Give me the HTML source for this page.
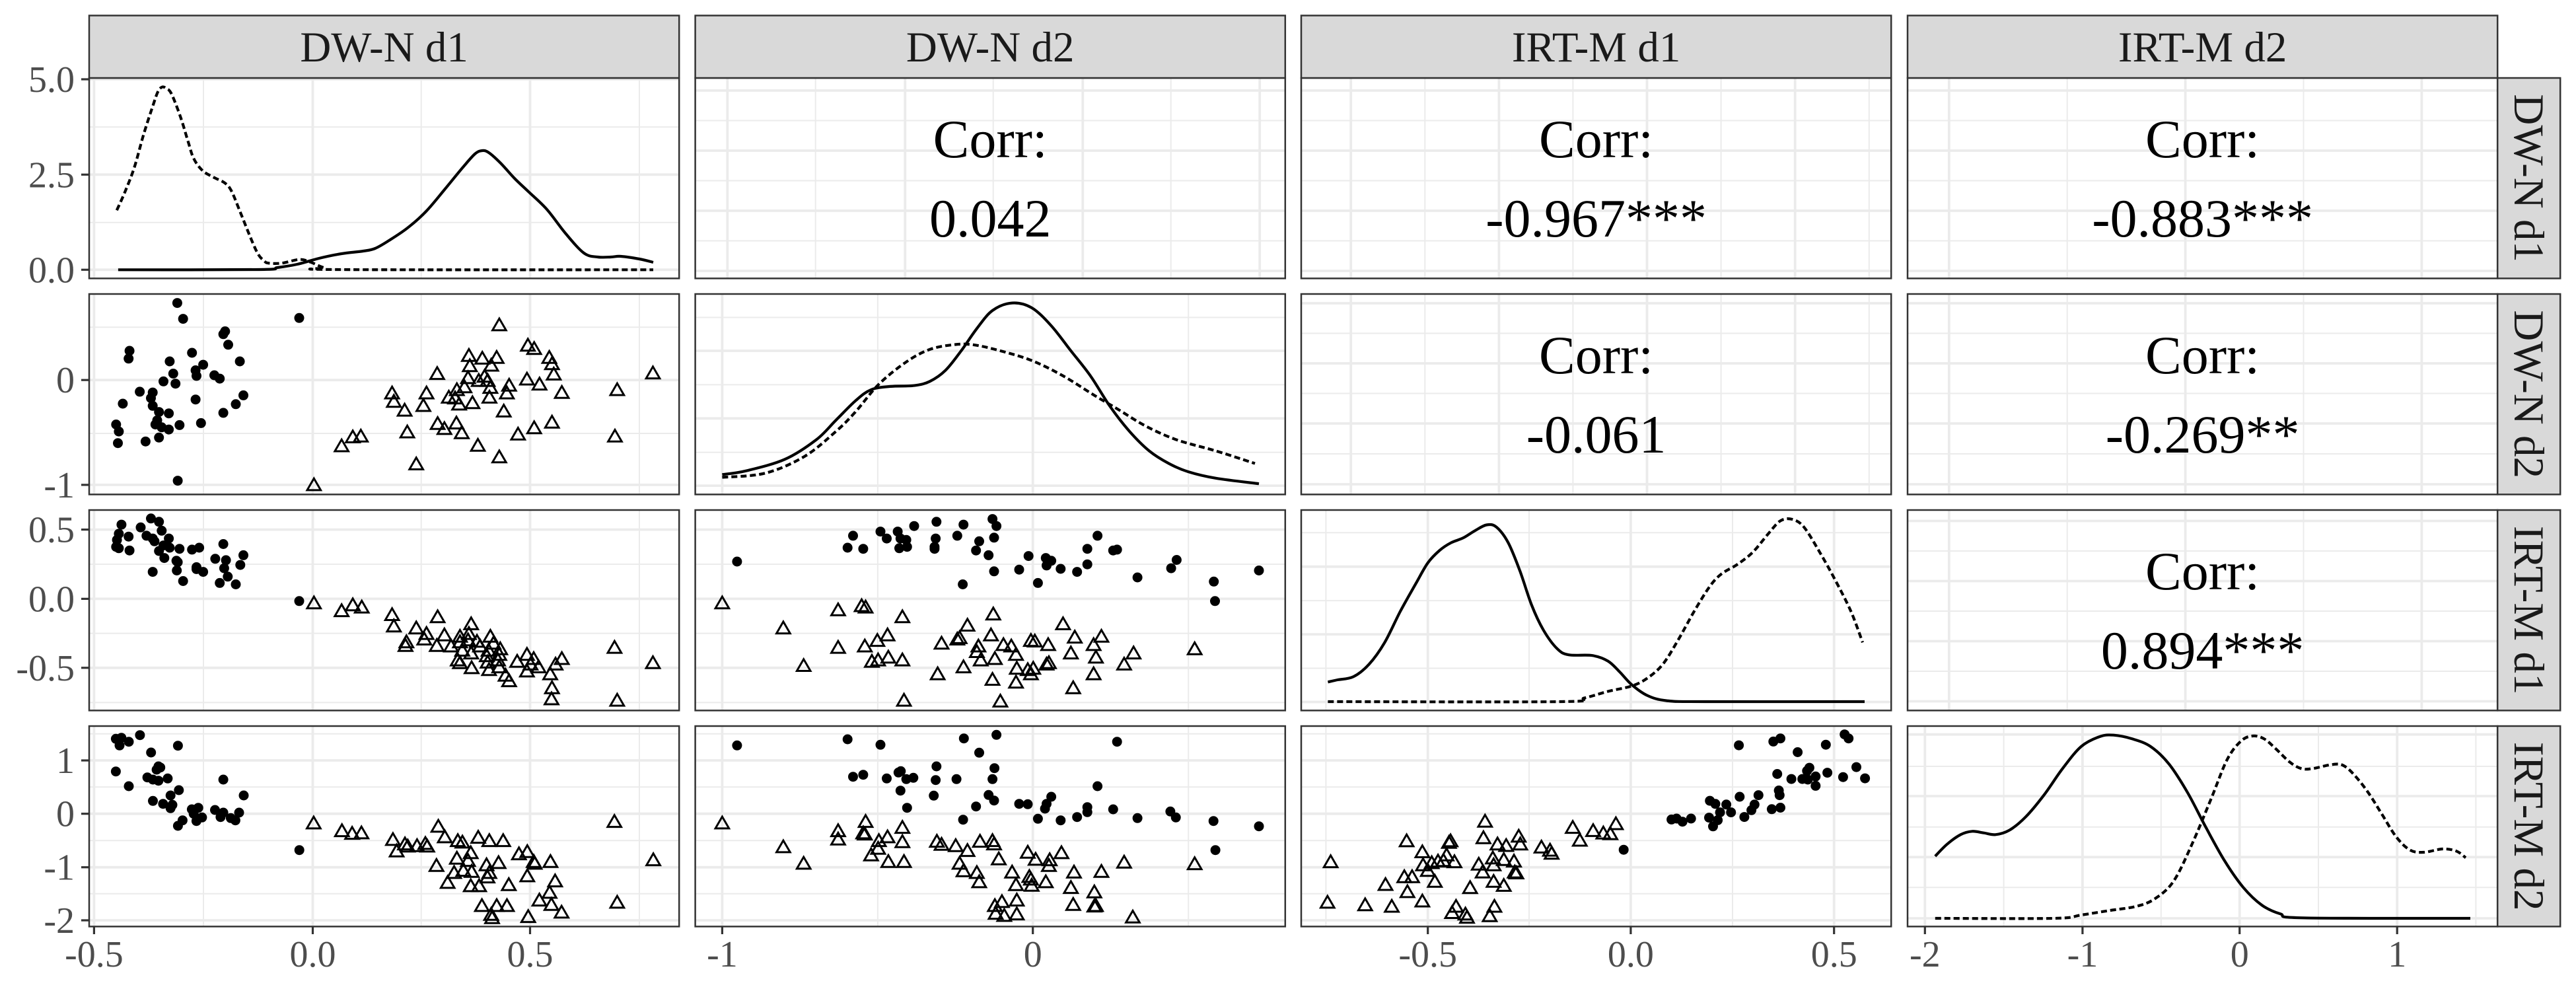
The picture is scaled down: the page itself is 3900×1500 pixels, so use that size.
<!DOCTYPE html>
<html>
<head>
<meta charset="utf-8">
<style>
html,body{margin:0;padding:0;background:#fff;}
svg{display:block;}
svg text{font-family:"Liberation Serif","DejaVu Serif",serif;}
</style>
</head>
<body>
<svg id="s" xmlns="http://www.w3.org/2000/svg" width="3900" height="1500" viewBox="0 0 3900 1500">
<rect x="0" y="0" width="3900" height="1500" fill="#ffffff"/>
<g id="grid"></g>
<g id="data"></g>
<g id="frames" fill="none" stroke="#333333" stroke-width="2.5">
<rect x="135" y="118" width="893.2" height="303.4"/><rect x="1052.6" y="118" width="893.2" height="303.4"/><rect x="1970" y="118" width="893.2" height="303.4"/><rect x="2888" y="118" width="893.2" height="303.4"/>
<rect x="135" y="445" width="893.2" height="303.4"/><rect x="1052.6" y="445" width="893.2" height="303.4"/><rect x="1970" y="445" width="893.2" height="303.4"/><rect x="2888" y="445" width="893.2" height="303.4"/>
<rect x="135" y="772" width="893.2" height="303.4"/><rect x="1052.6" y="772" width="893.2" height="303.4"/><rect x="1970" y="772" width="893.2" height="303.4"/><rect x="2888" y="772" width="893.2" height="303.4"/>
<rect x="135" y="1099" width="893.2" height="303.4"/><rect x="1052.6" y="1099" width="893.2" height="303.4"/><rect x="1970" y="1099" width="893.2" height="303.4"/><rect x="2888" y="1099" width="893.2" height="303.4"/>
</g>
<!-- strips -->
<g fill="#d9d9d9" stroke="#333333" stroke-width="2.5">
<rect x="135" y="23.5" width="893.2" height="94.5"/><rect x="1052.6" y="23.5" width="893.2" height="94.5"/><rect x="1970" y="23.5" width="893.2" height="94.5"/><rect x="2888" y="23.5" width="893.2" height="94.5"/>
<rect x="3781.2" y="118" width="95" height="303.4"/><rect x="3781.2" y="445" width="95" height="303.4"/><rect x="3781.2" y="772" width="95" height="303.4"/><rect x="3781.2" y="1099" width="95" height="303.4"/>
</g>
<g font-size="65" fill="#1a1a1a" text-anchor="middle">
<text x="581.6" y="93">DW-N d1</text>
<text x="1499.2" y="93">DW-N d2</text>
<text x="2416.6" y="93">IRT-M d1</text>
<text x="3334.6" y="93">IRT-M d2</text>
<text transform="translate(3829,269.7) rotate(90)" y="22">DW-N d1</text>
<text transform="translate(3829,596.7) rotate(90)" y="22">DW-N d2</text>
<text transform="translate(3829,923.7) rotate(90)" y="22">IRT-M d1</text>
<text transform="translate(3829,1250.7) rotate(90)" y="22">IRT-M d2</text>
</g>
<!-- correlation text -->
<g font-size="82" fill="#000000" text-anchor="middle">
<text x="1499.2" y="238">Corr:</text><text x="1499.2" y="358">0.042</text>
<text x="2416.6" y="238">Corr:</text><text x="2416.6" y="358">-0.967***</text>
<text x="3334.6" y="238">Corr:</text><text x="3334.6" y="358">-0.883***</text>
<text x="2416.6" y="565">Corr:</text><text x="2416.6" y="685">-0.061</text>
<text x="3334.6" y="565">Corr:</text><text x="3334.6" y="685">-0.269**</text>
<text x="3334.6" y="892">Corr:</text><text x="3334.6" y="1012">0.894***</text>
</g>
<!-- axis ticks -->
<g stroke="#333333" stroke-width="3.2">
<line x1="123" x2="135" y1="120" y2="120"/><line x1="123" x2="135" y1="264.3" y2="264.3"/><line x1="123" x2="135" y1="408.3" y2="408.3"/>
<line x1="123" x2="135" y1="575.2" y2="575.2"/><line x1="123" x2="135" y1="733.9" y2="733.9"/>
<line x1="123" x2="135" y1="801.6" y2="801.6"/><line x1="123" x2="135" y1="906.4" y2="906.4"/><line x1="123" x2="135" y1="1010.8" y2="1010.8"/>
<line x1="123" x2="135" y1="1151" y2="1151"/><line x1="123" x2="135" y1="1231.7" y2="1231.7"/><line x1="123" x2="135" y1="1312.7" y2="1312.7"/><line x1="123" x2="135" y1="1393" y2="1393"/>
<line x1="142.4" x2="142.4" y1="1402" y2="1414"/><line x1="473.5" x2="473.5" y1="1402" y2="1414"/><line x1="802.5" x2="802.5" y1="1402" y2="1414"/>
<line x1="1093.4" x2="1093.4" y1="1402" y2="1414"/><line x1="1563.7" x2="1563.7" y1="1402" y2="1414"/>
<line x1="2161.7" x2="2161.7" y1="1402" y2="1414"/><line x1="2468.9" x2="2468.9" y1="1402" y2="1414"/><line x1="2776.7" x2="2776.7" y1="1402" y2="1414"/>
<line x1="2914.3" x2="2914.3" y1="1402" y2="1414"/><line x1="3152.9" x2="3152.9" y1="1402" y2="1414"/><line x1="3390.7" x2="3390.7" y1="1402" y2="1414"/><line x1="3629.2" x2="3629.2" y1="1402" y2="1414"/>
</g>
<g font-size="56" fill="#4d4d4d" text-anchor="end">
<text x="113" y="139">5.0</text><text x="113" y="283.3">2.5</text><text x="113" y="427.3">0.0</text>
<text x="113" y="594.2">0</text><text x="113" y="752.9">-1</text>
<text x="113" y="820.6">0.5</text><text x="113" y="925.4">0.0</text><text x="113" y="1029.8">-0.5</text>
<text x="113" y="1170">1</text><text x="113" y="1250.7">0</text><text x="113" y="1331.7">-1</text><text x="113" y="1412">-2</text>
</g>
<g font-size="56" fill="#4d4d4d" text-anchor="middle">
<text x="142.4" y="1463">-0.5</text><text x="473.5" y="1463">0.0</text><text x="802.5" y="1463">0.5</text>
<text x="1093.4" y="1463">-1</text><text x="1563.7" y="1463">0</text>
<text x="2161.7" y="1463">-0.5</text><text x="2468.9" y="1463">0.0</text><text x="2776.7" y="1463">0.5</text>
<text x="2914.3" y="1463">-2</text><text x="3152.9" y="1463">-1</text><text x="3390.7" y="1463">0</text><text x="3629.2" y="1463">1</text>
</g>
</svg>
<script>
(function(){
var NS="http://www.w3.org/2000/svg";
function el(tag,attrs,parent){var e=document.createElementNS(NS,tag);for(var k in attrs)e.setAttribute(k,attrs[k]);parent.appendChild(e);return e;}
var L=[135,1052.6,1970,2888],T=[118,445,772,1099],W=893.2,H=303.4;
var gG=document.getElementById('grid'),gD=document.getElementById('data');
var colV=[
 {maj:[142.4,473.5,802.5],min:[308,637.7,968]},
 {maj:[1093.4,1563.7],min:[1328.9,1799.2]},
 {maj:[2161.7,2468.9,2776.7],min:[2007.4,2315,2623]},
 {maj:[2914.3,3152.9,3390.7,3629.2],min:[3033.6,3271.8,3510,3748.4]}];
var rowH=[null,
 {maj:[575.2,733.9],min:[495.2,656]},
 {maj:[801.6,906.4,1010.8],min:[854,958.6,1063.4]},
 {maj:[1151,1231.7,1312.7,1393],min:[1110.7,1191.3,1272.2,1352.8]}];
var diagH=[
 {maj:[120,264.3,408.3],min:[192.3,336.7]},
 {maj:[531,633.3,735.1],min:[480.5,582.4,684.6]},
 {maj:[857.7,960.1,1062.5],min:[806.2,909.1,1011.5]},
 {maj:[1111.7,1205,1297.3,1390],min:[1160,1251.7,1343.3]}];
var corrV=[null,
 {maj:[1101.3,1370.3,1639.3,1907.2],min:[1234.7,1503.7,1772.7]},
 {maj:[2045.2,2269.4,2493.5,2717.7],min:[2157.3,2381.4,2605.6,2829.8]},
 {maj:[2950.8,3308.6,3666.4],min:[3129.7,3487.5]}];
var corrH=[
 {maj:[19,110,201,292],min:[64.5,155.5,246.5]},
 {maj:[14,105,196,288],min:[59.5,150.5,242]},
 {maj:[16.5,107.5,198.5,289.5],min:[62,153,244]}];
function vline(x,r,maj){el('line',{x1:x,x2:x,y1:T[r]+1,y2:T[r]+H-1,stroke:'#ebebeb','stroke-width':maj?3.8:2},gG);}
function hline(y,c,maj){el('line',{x1:L[c]+1,x2:L[c]+W-1,y1:y,y2:y,stroke:'#ebebeb','stroke-width':maj?3.8:2},gG);}
for(var r=0;r<4;r++){for(var c=0;c<4;c++){
 var V,HH;
 if(r<c){V=corrV[c];var o=corrH[r];HH={maj:o.maj.map(function(v){return T[r]+v;}),min:o.min.map(function(v){return T[r]+v;})};}
 else{V=colV[c];HH=(r==c)?diagH[r]:rowH[r];}
 V.min.forEach(function(x){vline(x,r,0);});HH.min.forEach(function(y){hline(y,c,0);});
 V.maj.forEach(function(x){vline(x,r,1);});HH.maj.forEach(function(y){hline(y,c,1);});
}}
var Z={
 z2:{ox:0,oy:1050,fx:1.4255,fy:3},
 z4:{ox:2800,oy:1050,fx:1.4255,fy:3},
 z5:{ox:0,oy:430,fx:1.479,fy:2.376},
 z6:{ox:1040,oy:430,fx:1.686,fy:2.376},
 z7:{ox:1040,oy:1090,fx:1.686,fy:3},
 z8:{ox:1960,oy:760,fx:1.686,fy:2.119}};
function tf(z,a){return a.map(function(p){return [+(z.ox+p[0]/z.fx).toFixed(1),+(z.oy+p[1]/z.fy).toFixed(1)];});}
function smooth(p){var d='M'+p[0][0]+','+p[0][1];for(var i=0;i<p.length-1;i++){var p0=p[i-1]||p[i],p1=p[i],p2=p[i+1],p3=p[i+2]||p2;
 var c1x=p1[0]+(p2[0]-p0[0])/6,c1y=p1[1]+(p2[1]-p0[1])/6,c2x=p2[0]-(p3[0]-p1[0])/6,c2y=p2[1]-(p3[1]-p1[1])/6;
 d+='C'+c1x.toFixed(1)+','+c1y.toFixed(1)+' '+c2x.toFixed(1)+','+c2y.toFixed(1)+' '+p2[0]+','+p2[1];}return d;}
function curve(a,dash){var e=el('path',{d:smooth(a),fill:'none',stroke:'#000','stroke-width':4.2,'stroke-linejoin':'round'},gD);if(dash)e.setAttribute('stroke-dasharray','9,5');}
function dots(a){a.forEach(function(p){el('circle',{cx:p[0],cy:p[1],r:7.5,fill:'#000'},gD);});}
function tris(a){var s=10.3,h=8.9;a.forEach(function(p){el('path',{d:'M'+p[0]+','+(p[1]-h)+'L'+(p[0]+s)+','+(p[1]+h)+'L'+(p[0]-s)+','+(p[1]+h)+'Z',fill:'none',stroke:'#000','stroke-width':3},gD);});}

/* diag 1 (absolute) */
curve([[178.9,408.3],[392,408],[420,405],[450,400],[483,391],[517,384],[550,380],[568,376],[589,364],[617,345],[645,320],[673,287],[701,253],[719,233],[730,228],[740,231],[758,247],[779,270],[800,290],[828,317],[856,353],[884,383],[905,389],[925,389],[940,388],[968,392],[989,397]],false);
curve([[176.8,318.3],[189.4,290],[203.4,253.3],[217.5,203.3],[231.5,160],[239,139],[245.5,131.7],[252,134],[259.6,142],[273.6,178],[285,215],[293.3,240],[306.7,258.3],[323.3,268.3],[340,276.7],[350,288.3],[363.3,320],[376.7,353.3],[390,383.3],[400,395],[406.7,398.3],[426.7,398.3],[453.3,392.7],[470,396.7],[490,405],[510,408],[989,408.3]],true);

/* diag 2 */
curve(tf(Z.z6,[[90,685],[150,672],[250,630],[330,560],[380,490],[430,420],[470,380],[520,368],[580,365],[620,350],[660,310],[700,240],[740,160],[780,95],[830,68],[880,85],[930,150],[980,240],[1030,330],[1080,440],[1130,530],[1180,600],[1230,645],[1280,675],[1350,698],[1460,718]]),false);
curve(tf(Z.z6,[[90,695],[200,680],[300,620],[380,530],[430,460],[490,360],[560,280],[620,235],[680,218],[730,218],[800,240],[880,275],[960,330],[1040,400],[1100,450],[1170,510],[1250,560],[1350,600],[1450,645]]),true);

/* diag 3 */
curve(tf(Z.z8,[[85,577],[110,570],[150,560],[190,520],[230,450],[270,350],[310,260],[340,195],[370,155],[400,130],[430,115],[460,92],[490,73],[515,80],[545,130],[575,220],[605,330],[635,410],[670,470],[700,490],[760,492],[800,510],[830,545],[860,585],[900,620],[950,637],[1050,640],[1455,640]]),false);
curve(tf(Z.z8,[[85,640],[680,640],[740,628],[800,607],[860,590],[900,565],[940,520],[980,440],[1020,350],[1060,270],[1090,230],[1130,200],[1170,160],[1210,100],[1240,60],[1270,55],[1300,80],[1340,160],[1380,250],[1420,350],[1450,450]]),true);

/* diag 4 */
curve(tf(Z.z4,[[185,738],[210,685],[240,640],[265,625],[290,632],[315,640],[345,620],[380,560],[420,460],[460,340],[500,240],[540,195],[570,188],[610,205],[650,240],[690,320],[730,450],[770,610],[810,760],[850,880],[890,960],[930,1000],[980,1018],[1340,1020]]),false);
curve(tf(Z.z4,[[185,1020],[440,1020],[500,1005],[560,985],[620,965],[660,930],[700,850],[740,680],[780,480],[815,300],[845,215],[870,192],[895,205],[920,250],[950,310],[975,340],[1000,340],[1040,322],[1065,325],[1090,370],[1120,450],[1150,550],[1180,650],[1210,710],[1240,720],[1280,705],[1310,715],[1330,745]]),true);

/* row2 col1 */
dots(tf(Z.z5,[[397,68],[410,125],[670,122],[504,170],[500,180],[511,218],[290,240],[288,268],[430,247],[380,278],[537,278],[455,290],[438,310],[440,330],[388,322],[480,328],[492,340],[366,350],[393,358],[313,387],[342,390],[338,410],[545,400],[275,430],[438,415],[528,432],[342,438],[356,460],[378,465],[500,463],[352,490],[450,500],[260,505],[348,505],[266,530],[402,507],[378,523],[362,515],[356,552],[326,566],[264,572],[398,707]]));
tris(tf(Z.z5,[[1118,145],[1182,218],[1196,230],[1050,255],[1080,265],[1112,262],[1230,262],[1236,285],[1052,292],[1100,290],[979,320],[1240,322],[1462,318],[1048,335],[1085,330],[1092,345],[1180,340],[1072,345],[1040,368],[1098,370],[1208,358],[1140,362],[1258,388],[1382,378],[878,390],[955,390],[1023,378],[1005,405],[1019,408],[1135,390],[1096,405],[882,420],[1028,430],[1058,425],[948,435],[906,452],[1128,455],[980,500],[1022,498],[995,518],[1034,533],[1236,495],[1196,515],[1160,538],[912,530],[1377,545],[790,548],[808,545],[765,580],[1070,578],[1118,620],[932,645],[703,720]]));

/* row3 col1 */
dots(tf(Z.z5,[[338,843],[356,855],[272,865],[315,875],[362,887],[328,905],[266,898],[342,915],[346,925],[378,915],[262,920],[288,908],[366,940],[380,948],[260,945],[402,952],[500,935],[430,955],[446,948],[356,960],[290,958],[266,950],[368,985],[395,995],[398,1000],[482,988],[506,993],[545,975],[538,1010],[440,1018],[502,1022],[342,1035],[396,1030],[455,1035],[440,1025],[510,1052],[410,1068],[492,1075],[528,1080],[670,1140]]));
tris(tf(Z.z5,[[703,1145],[765,1173],[790,1152],[810,1160],[878,1187],[882,1228],[980,1195],[1055,1220],[932,1235],[955,1255],[995,1260],[1030,1265],[1050,1255],[1098,1265],[910,1285],[908,1298],[950,1275],[978,1298],[1010,1300],[1030,1285],[1048,1278],[1068,1283],[1075,1300],[1105,1290],[1120,1310],[1035,1315],[1055,1325],[1094,1315],[1090,1335],[1118,1330],[1025,1350],[1030,1360],[1056,1378],[1092,1358],[1095,1385],[1115,1350],[1118,1375],[1132,1405],[1140,1425],[1158,1355],[1180,1330],[1195,1345],[1188,1365],[1180,1390],[1206,1375],[1244,1365],[1258,1345],[1232,1400],[1236,1450],[1235,1490],[1376,1305],[1462,1360],[1382,1495]]));

/* row4 col1 */
dots(tf(Z.z2,[[262,200],[250,205],[258,235],[278,218],[302,188],[384,236],[326,267],[250,353],[342,330],[338,345],[346,335],[318,380],[330,390],[342,395],[362,385],[278,420],[482,390],[386,438],[368,462],[526,462],[330,487],[352,500],[372,505],[368,520],[414,525],[428,518],[418,545],[464,528],[482,540],[476,560],[498,565],[508,575],[516,540],[436,562],[424,578],[394,575],[384,600],[646,710]]));
tris(tf(Z.z2,[[677,585],[738,620],[760,632],[780,630],[848,660],[874,680],[856,712],[880,690],[900,688],[918,678],[922,690],[946,600],[960,648],[988,665],[998,672],[1032,650],[1056,665],[1086,665],[1016,720],[1120,725],[1138,715],[986,745],[1010,755],[1050,775],[1076,765],[942,778],[980,810],[1000,800],[1018,805],[1056,810],[1052,830],[1138,825],[1152,760],[1154,768],[1188,760],[966,855],[1016,870],[1034,870],[1098,865],[1198,848],[1186,900],[1164,935],[1190,955],[1212,990],[1040,960],[1072,960],[1094,960],[1060,1000],[1062,1015],[1140,1010],[1326,578],[1410,752],[1332,945]]));

/* row3 col2 */
dots(tf(Z.z6,[[128,998],[424,905],[410,948],[450,952],[494,890],[510,915],[538,890],[545,915],[560,920],[542,950],[562,945],[580,870],[637,855],[635,915],[632,945],[632,952],[690,905],[706,865],[780,845],[790,870],[784,912],[746,925],[738,958],[770,975],[872,978],[916,985],[930,995],[918,1012],[954,1024],[784,1033],[848,1027],[996,1035],[1022,1008],[1048,905],[1022,952],[1088,958],[1098,955],[1250,992],[1236,1022],[1150,1055],[1345,1070],[1348,1140],[1460,1030],[704,1080],[896,1075]]));
tris(tf(Z.z6,[[90,1145],[386,1170],[446,1155],[456,1160],[550,1195],[246,1235],[782,1185],[716,1225],[960,1220],[512,1260],[486,1280],[690,1275],[696,1270],[650,1290],[776,1260],[990,1268],[1058,1265],[878,1280],[888,1282],[808,1295],[828,1300],[922,1295],[1038,1295],[744,1300],[386,1305],[454,1300],[740,1320],[840,1330],[980,1325],[1140,1325],[1296,1310],[1044,1340],[786,1345],[750,1350],[514,1340],[550,1350],[488,1350],[472,1355],[298,1370],[706,1375],[842,1380],[870,1385],[884,1380],[918,1365],[924,1360],[878,1400],[1116,1365],[640,1400],[780,1420],[840,1430],[1038,1400],[986,1450],[554,1495],[800,1498]]));

/* row4 col2 */
dots(tf(Z.z7,[[128,115],[410,87],[494,112],[707,83],[790,67],[1098,98],[746,148],[637,210],[785,218],[424,257],[450,248],[510,265],[540,238],[546,232],[560,268],[578,262],[635,272],[688,268],[780,268],[545,320],[630,343],[770,340],[784,365],[738,392],[848,380],[870,382],[930,348],[918,380],[914,402],[1048,300],[1022,395],[1022,418],[1088,405],[1234,415],[1248,442],[562,398],[705,452],[896,448],[954,455],[996,440],[1150,445],[1344,458],[1460,482],[1349,590]]));
tris(tf(Z.z7,[[90,465],[456,458],[386,500],[386,538],[550,485],[450,510],[454,515],[512,528],[490,545],[488,580],[470,610],[550,550],[514,640],[554,640],[246,573],[298,648],[638,548],[650,562],[686,568],[716,590],[748,548],[780,545],[784,560],[870,598],[796,628],[890,630],[926,632],[956,600],[924,658],[696,648],[706,682],[740,690],[746,732],[830,688],[874,708],[878,720],[840,745],[880,748],[916,732],[988,688],[1058,685],[1116,643],[1296,650],[980,758],[1040,778],[786,840],[804,822],[842,815],[788,875],[810,885],[842,878],[986,835],[1040,842],[1044,840],[1138,892]]));

/* row4 col3 */
dots(tf(Z.z8,[[1134,780],[1222,768],[1240,758],[1356,778],[1404,745],[1414,758],[1284,802],[1434,850],[1456,886],[1360,868],[1400,882],[1232,872],[1268,888],[1296,888],[1308,862],[1314,852],[1330,880],[1330,910],[1310,890],[1236,925],[1238,940],[1184,940],[1136,945],[1060,958],[1074,968],[1102,970],[1114,995],[1174,970],[1166,988],[1218,985],[1240,980],[1058,1012],[1068,1040],[1080,1020],[1086,995],[1148,1010],[962,1018],[975,1015],[990,1025],[1012,1015],[840,1115]]));
tris(tf(Z.z8,[[486,1022],[710,1042],[762,1052],[728,1083],[788,1060],[806,1062],[820,1030],[286,1085],[398,1085],[394,1090],[482,1075],[518,1095],[540,1100],[572,1070],[576,1095],[630,1105],[652,1115],[656,1125],[92,1152],[326,1120],[350,1155],[366,1150],[380,1148],[388,1130],[408,1152],[328,1162],[340,1180],[470,1160],[506,1140],[508,1162],[534,1145],[560,1150],[562,1185],[566,1188],[480,1185],[508,1215],[534,1228],[358,1215],[280,1200],[300,1200],[232,1225],[288,1248],[448,1235],[84,1282],[180,1290],[248,1295],[326,1278],[412,1295],[402,1315],[436,1320],[440,1330],[510,1295],[498,1325]]));
})();
</script>
</body>
</html>
